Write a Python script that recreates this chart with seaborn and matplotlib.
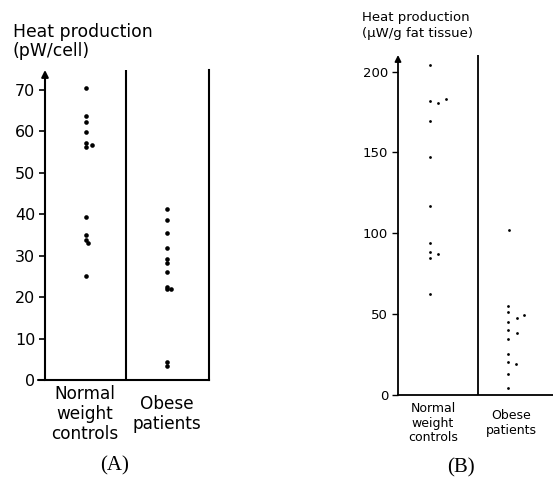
import numpy as np
import pandas as pd
import matplotlib
matplotlib.use("Agg")
import matplotlib.pyplot as plt
import seaborn as sns

sns.set_theme(style="white")
plt.rcParams['font.family'] = ['DejaVu Sans']

# ---- Data ----
categories_a = ["Normal\nweight\ncontrols", "Obese\npatients"]
a_normal = [70.4, 63.6, 62.3, 59.9, 57.1, 56.3, 56.7, 39.3, 35.0, 33.8, 33.1, 25.2]
a_normal_dx = [0, 0, 0, 0, 0, 0, 0.07, 0, 0, 0, 0.03, 0]
a_obese = [41.2, 38.6, 35.4, 31.8, 29.1, 28.3, 26.0, 22.5, 21.9, 21.9, 4.4, 3.4]
a_obese_dx = [0, 0, 0, 0, 0, 0, 0, 0, 0, 0.05, 0, 0]

b_normal = [204.0, 181.7, 180.8, 182.9, 169.7, 147.4, 117.1, 93.8, 88.3, 87.2, 84.6, 62.3]
b_normal_dx = [0, 0, 0.1, 0.21, 0, 0, 0, 0, 0, 0.1, 0, 0]
b_obese = [102.1, 55.2, 51.5, 45.3, 40.2, 34.5, 25.4, 20.6, 13.0, 4.1, 47.4, 49.3, 38.5, 19.2]
b_obese_dx = [0.02, 0, 0, 0, 0, 0, 0, 0, 0, 0, 0.12, 0.21, 0.12, 0.11]

a_ticks = [0, 10, 20, 30, 40, 50, 60, 70]
b_ticks = [0, 50, 100, 150, 200]

W, H = 553, 488
fig = plt.figure(figsize=(W / 100, H / 100), dpi=100)


def frame(px_left, px_right, px_top, px_bottom):
    return fig.add_axes([px_left / W, 1 - px_bottom / H,
                         (px_right - px_left) / W, (px_bottom - px_top) / H])


def make_df(vals0, dx0, vals1, dx1):
    x = [0 + d for d in dx0] + [1 + d for d in dx1]
    y = list(vals0) + list(vals1)
    return pd.DataFrame({"x": x, "y": y})


# ---- Panel A ----
axA = frame(45, 209, 70, 380)
dfA = make_df(a_normal, a_normal_dx, a_obese, a_obese_dx)
sns.scatterplot(data=dfA, x="x", y="y", ax=axA, color="black", s=11,
                edgecolor="black", linewidth=0, legend=False)
axA.set_xlim(-0.506, 1.519)
axA.set_ylim(0, 74.8)
axA.axvline(0.494, color="black", lw=1.5)
for side in ["top", "left"]:
    axA.spines[side].set_visible(False)
for side in ["right", "bottom"]:
    axA.spines[side].set_color("black")
    axA.spines[side].set_linewidth(1.5)
axA.annotate("", xy=(0, 1.0), xytext=(0, 0), xycoords="axes fraction",
             arrowprops=dict(arrowstyle="-|>", color="black", lw=1.5,
                             mutation_scale=10, shrinkA=0, shrinkB=0))
axA.plot([-0.04, 0], [0, 0], transform=axA.transAxes, color="black",
         lw=1.5, clip_on=False)
axA.set_yticks(a_ticks)
axA.set_yticklabels([str(t) for t in a_ticks], fontsize=11.5)
axA.tick_params(axis="y", which="both", left=True, length=4, width=1.2,
                color="black", pad=3, labelcolor="black")
axA.set_xticks([])
axA.set_xlabel("")
axA.set_ylabel("")
for i, lab in enumerate(categories_a):
    axA.text(i - (0.01 if i == 0 else 0), -0.11, lab,
             transform=axA.get_xaxis_transform(), ha="center", va="center",
             fontsize=12.2, linespacing=1.12, color="black")

fig.text(13 / W, 1 - 37 / H, "Heat production", fontsize=12.4, va="baseline",
         color="black")
fig.text(13 / W, 1 - 56 / H, "(pW/cell)", fontsize=12.4, va="baseline",
         color="black")
fig.text(115 / W, 1 - 466 / H, "(A)", fontsize=15, ha="center", va="center",
         family=["Liberation Serif", "DejaVu Serif"], color="black")

# ---- Panel B ----
axB = frame(398, 553, 55, 395)
dfB = make_df(b_normal, b_normal_dx, b_obese, b_obese_dx)
sns.scatterplot(data=dfB, x="x", y="y", ax=axB, color="black", s=4,
                edgecolor="black", linewidth=0, legend=False)
axB.set_xlim(-0.41, 1.58)
axB.set_ylim(0, 210.3)
axB.axvline(0.615, color="black", lw=1.3)
for side in ["top", "left", "right"]:
    axB.spines[side].set_visible(False)
axB.spines["bottom"].set_color("black")
axB.spines["bottom"].set_linewidth(1.3)
axB.annotate("", xy=(0, 1.0), xytext=(0, 0), xycoords="axes fraction",
             arrowprops=dict(arrowstyle="-|>", color="black", lw=1.3,
                             mutation_scale=9, shrinkA=0, shrinkB=0))
axB.set_yticks(b_ticks)
axB.set_yticklabels([str(t) for t in b_ticks], fontsize=9.5)
axB.tick_params(axis="y", which="both", left=True, length=4, width=1.0,
                color="black", pad=3, labelcolor="black")
axB.set_xticks([])
axB.set_xlabel("")
axB.set_ylabel("")
b_label_x = [0.04, 1.04]
for i, lab in enumerate(categories_a):
    axB.text(b_label_x[i], -0.083, lab,
             transform=axB.get_xaxis_transform(), ha="center", va="center",
             fontsize=9, linespacing=1.15, color="black")

fig.text(362 / W, 1 - 21.5 / H, "Heat production", fontsize=9.5,
         va="baseline", color="black")
fig.text(362 / W, 1 - 37 / H, "(µW/g fat tissue)", fontsize=9.5,
         va="baseline", color="black")
fig.text(461 / W, 1 - 468 / H, "(B)", fontsize=15, ha="center", va="center",
         family=["Liberation Serif", "DejaVu Serif"], color="black")

fig.savefig("out.png", dpi=100, facecolor="white")
